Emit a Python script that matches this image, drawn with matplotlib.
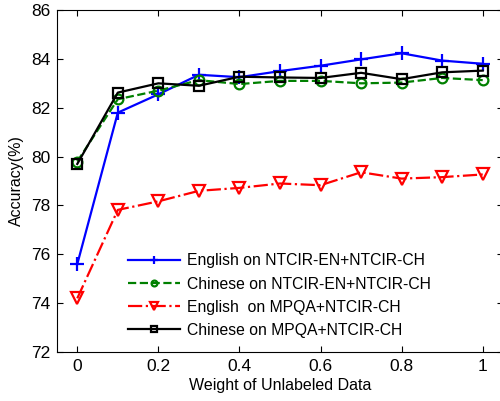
import numpy as np
import matplotlib
matplotlib.use("Agg")
import matplotlib.pyplot as plt

plt.rcParams['font.family'] = ['Liberation Sans', 'DejaVu Sans']

# weights
x = [0, 0.1, 0.2, 0.3, 0.4, 0.5, 0.6, 0.7, 0.8, 0.9, 1.0]

en_ntcir = [75.6, 81.8, 82.55, 83.35, 83.25, 83.5, 83.72, 83.98, 84.23, 83.93, 83.8]
ch_ntcir = [79.8, 82.35, 82.7, 83.13, 82.97, 83.1, 83.1, 83.0, 83.03, 83.22, 83.13]
en_mpqa = [74.2, 77.82, 78.17, 78.6, 78.72, 78.9, 78.83, 79.36, 79.1, 79.16, 79.27]
ch_mpqa = [79.7, 82.62, 83.0, 82.9, 83.27, 83.24, 83.22, 83.43, 83.17, 83.45, 83.52]

labels = ['English on NTCIR-EN+NTCIR-CH',
          'Chinese on NTCIR-EN+NTCIR-CH',
          'English  on MPQA+NTCIR-CH',
          'Chinese on MPQA+NTCIR-CH']

fig = plt.figure(figsize=(5.0, 4.01), dpi=100)
ax = fig.add_axes([0.114, 0.122, 0.892, 0.853])

ax.plot(x, en_ntcir, color='#0000ff', ls='-', lw=1.6, marker='+', ms=10, mew=1.6,
        label=labels[0])
ax.plot(x, ch_ntcir, color='#008000', ls='--', lw=1.6, marker='o', ms=7, mew=1.6,
        mfc='none', label=labels[1])
ax.plot(x, en_mpqa, color='#ff0000', ls='-.', lw=1.6, marker='v', ms=9, mew=1.6,
        mfc='none', label=labels[2])
ax.plot(x, ch_mpqa, color='black', ls='-', lw=1.6, marker='s', ms=7, mew=1.6,
        mfc='none', label=labels[3])

ax.set_xlim(-0.05, 1.05)
ax.set_ylim(72, 86)
ax.set_xticks([0, 0.2, 0.4, 0.6, 0.8, 1])
ax.set_xticklabels(['0', '0.2', '0.4', '0.6', '0.8', '1'])
ax.set_yticks(range(72, 87, 2))
ax.tick_params(direction='in', top=True, right=True, labelsize=12.5, length=4, pad=5)
ax.set_xlabel('Weight of Unlabeled Data', fontsize=11.5, labelpad=3)
ax.set_ylabel('Accuracy(%)', fontsize=11.5, labelpad=5)

ax.legend(loc='lower left', bbox_to_anchor=(0.127, 0.0), frameon=False,
          fontsize=11.3, handlelength=3.3, labelspacing=0.52, markerscale=0.6,
          handletextpad=0.45)

fig.savefig('out.png', dpi=100)
